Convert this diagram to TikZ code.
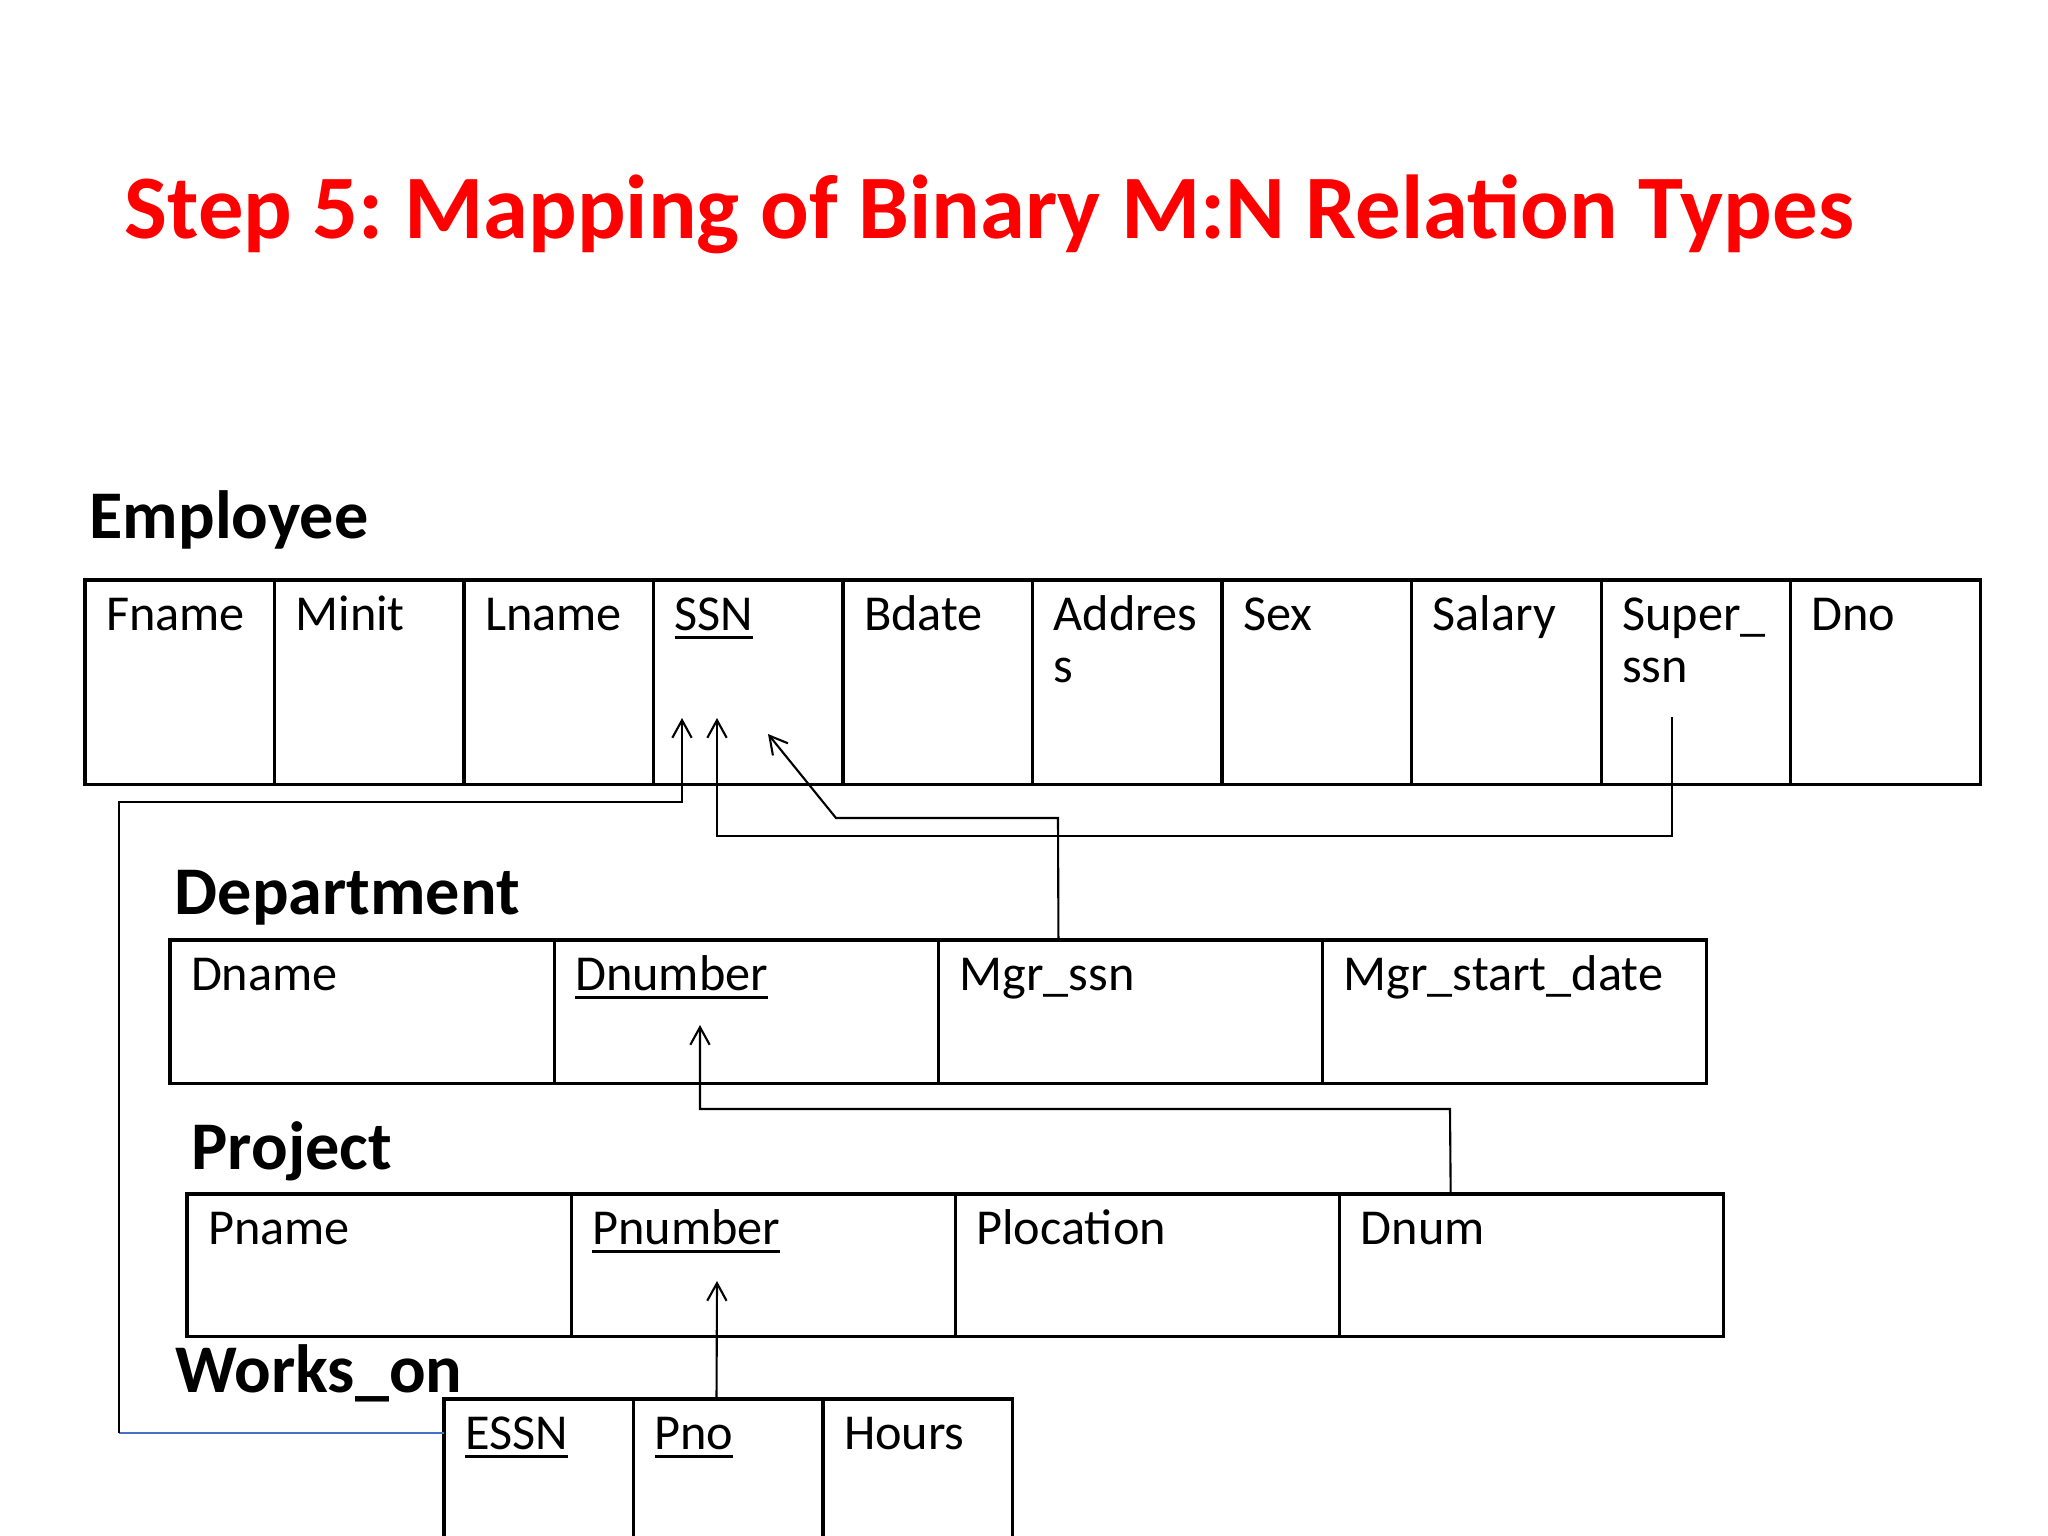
\documentclass[tikz,border=0pt]{standalone}
\usepackage{fontspec}
\setmainfont{Carlito}
\usetikzlibrary{positioning, arrows.meta, calc}
\definecolor{titlered}{RGB}{255,0,0}
\definecolor{linkblue}{RGB}{68,114,196}
\def\link{\draw[-{Straight Barb[length=5pt,width=5.5pt]}, line width=0.6pt]}
\def\keyattr#1{\setbox0\hbox{#1}\rlap{\rule[-2.6pt]{\wd0}{0.9pt}}\box0}
\frenchspacing

\tikzset{
  cell/.style={draw, line width=0.9pt, outer sep=0pt, inner xsep=0.21cm, inner ysep=0pt,
    anchor=north west, align=left, text height=0.5cm,
    font=\fontsize{14.3}{14.8}\selectfont},
  empcell/.style={cell, text width=1.474cm, text depth=1.54cm},
  depcell/.style={cell, text width=3.42cm, text depth=0.93cm},
  prjcell/.style={cell, text width=3.42cm, text depth=0.92cm},
  wocell/.style={cell, text width=1.474cm, text depth=1.9cm},
  tabname/.style={anchor=base west, inner sep=0pt, font=\fontsize{19.4}{22}\selectfont\bfseries},
}

\begin{document}
\begin{tikzpicture}[x=0.01cm, y=-0.01cm]
            \useasboundingbox (0,0) rectangle (2048,1536);
            \node [anchor=base west, inner sep=0pt, text=titlered,
                   font=\fontsize{25.8}{30}\selectfont\bfseries] (title) at (124,238)
                   {Step 5: Mapping of Binary M:N Relation Types};

            % Employee
            \node [tabname] (emplabel) at (89,538) {Employee};
            \node [empcell] (fname) at (85,580) {Fname};
            \node [empcell, right=0pt of fname] (minit) {Minit};
            \node [empcell, right=0pt of minit] (lname) {Lname};
            \node [empcell, right=0pt of lname] (ssn) {\keyattr{SSN}};
            \node [empcell, right=0pt of ssn] (bdate) {Bdate};
            \node [empcell, right=0pt of bdate] (address) {Addres\\s};
            \node [empcell, right=0pt of address] (sex) {Sex};
            \node [empcell, right=0pt of sex] (salary) {Salary};
            \node [empcell, right=0pt of salary] (superssn) {Super\_\\ssn};
            \node [empcell, right=0pt of superssn] (dno) {Dno};

            % Department
            \node [tabname] (deplabel) at (174,914) {Department};
            \node [depcell] (dname) at (170,940) {Dname};
            \node [depcell, right=0pt of dname] (dnumber) {\keyattr{Dnumber}};
            \node [depcell, right=0pt of dnumber] (mgrssn) {Mgr\_ssn};
            \node [depcell, right=0pt of mgrssn] (mgrdate) {Mgr\_start\_date};

            % Project
            \node [tabname] (prjlabel) at (191,1169) {Project};
            \node [prjcell] (pname) at (187,1194) {Pname};
            \node [prjcell, right=0pt of pname] (pnumber) {\keyattr{Pnumber}};
            \node [prjcell, right=0pt of pnumber] (plocation) {Plocation};
            \node [prjcell, right=0pt of plocation] (dnum) {Dnum};

            % Works_on
            \node [tabname] (wolabel) at (175,1392) {Works\_on};
            \node [wocell] (essn) at (444,1399) {\keyattr{ESSN}};
            \node [wocell, right=0pt of essn] (pno) {\keyattr{Pno}};
            \node [wocell, right=0pt of pno] (hours) {Hours};

            % arrow ends and bends
            \coordinate (ssnA) at (682,718);
            \coordinate (ssnB) at (717,718);
            \coordinate (ssnC) at (768,734);
            \coordinate (superout) at (1672,717);
            \coordinate (dnumberin) at (700,1025);
            \coordinate (pnumberin) at (717,1281);
            \coordinate (essnport) at ($(essn.north west)+(0,34)$);
            \coordinate (wcorner) at (119,1433);
            \coordinate (wbend) at (119,802);

            \draw[linkblue, line width=0.6pt] (essnport) -- (wcorner);
            \link (wcorner) -- (wbend) -| (ssnA);
            \link (superout) -- (1672,836) -| (ssnB);
            \link ($(mgrssn.north west)+(120,0)$) -- (1058,818) -- (836,818) -- (ssnC);
            \link ($(dnum.north west)+(111,0)$) -- (1450,1109) -| (dnumberin);
            \link ($(pno.north west)+(83,0)$) -- (pnumberin);
        \end{tikzpicture}
\end{document}
